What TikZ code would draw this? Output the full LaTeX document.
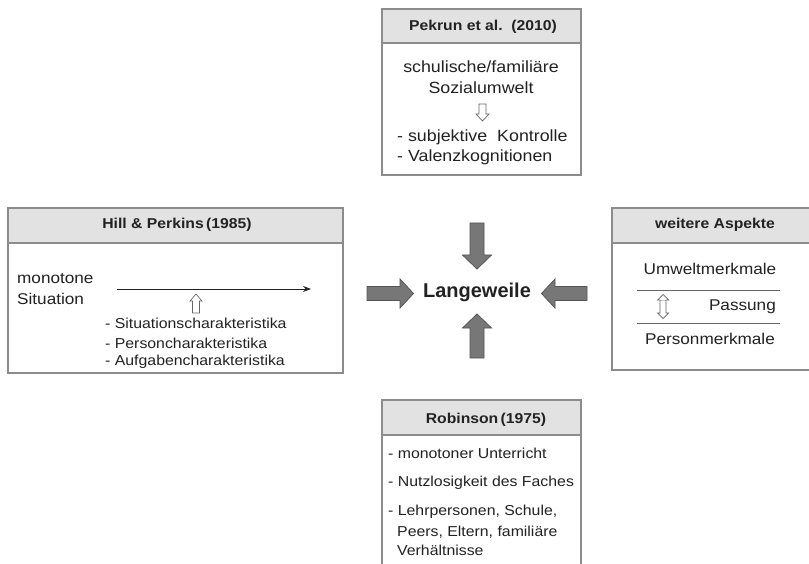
\documentclass[tikz,border=0pt]{standalone}
\usepackage{fontspec}
\setmainfont{Liberation Sans}
\newfontfamily\boxfont{Liberation Sans}[FakeStretch=1.1]
\usetikzlibrary{arrows.meta}
\definecolor{boxline}{HTML}{8C8C8C}
\definecolor{headfill}{HTML}{E2E2E2}
\definecolor{txt}{HTML}{222222}
\definecolor{blockfill}{HTML}{777777}
\definecolor{blockline}{HTML}{555555}
\tikzset{
  panel/.style={draw=boxline, line width=1.2pt, fill=white},
  panelhead/.style={draw=boxline, line width=1.2pt, fill=headfill},
  headtxt/.style={font=\boxfont\fontsize{14.3}{17}\selectfont\bfseries, text=txt, inner sep=0pt},
  bodytxt/.style={font=\boxfont\fontsize{16.2}{19}\selectfont, text=txt, inner sep=0pt},
  midtxt/.style={font=\boxfont\fontsize{15.6}{19}\selectfont, text=txt, inner sep=0pt},
  smalltxt/.style={font=\boxfont\fontsize{14.4}{18}\selectfont, text=txt, inner sep=0pt},
  blockarrow/.style={fill=blockfill, draw=blockline, line width=0.8pt, line join=miter},
  hollow/.style={draw=gray!80!black, line width=0.7pt, fill=white},
  sepline/.style={draw=gray!80!black, line width=0.8pt},
}
\begin{document}
\begin{tikzpicture}[x=1pt,y=-1pt]
\useasboundingbox (0,0) rectangle (809,564);
\clip (0,0) rectangle (809,564);
\fill[white] (0,0) rectangle (809,564);

% ---------- Pekrun (top) ----------
\draw[panel] (382,9) rectangle (581,175);
\draw[panelhead] (382,9) rectangle (581,43);
\node[headtxt] (pekh) at (483,27) {Pekrun et al.\ \ (2010)};
\node[bodytxt] (pek1) at (481,67) {schulische/familiäre};
\node[bodytxt] (pek2) at (481,88) {Sozialumwelt};
\draw[hollow] (479,104) -- (486,104) -- (486,114) -- (489,114) -- (482.5,121) -- (476,114) -- (479,114) -- cycle;
\node[bodytxt, anchor=west] (pek3) at (397,137) {- subjektive\ \ Kontrolle};
\node[bodytxt, anchor=west] (pek4) at (397,157) {- Valenzkognitionen};

% ---------- Hill & Perkins (left) ----------
\draw[panel] (8,208) rectangle (343,373);
\draw[panelhead] (8,208) rectangle (343,243);
\node[headtxt] (hillh) at (177,225) {Hill \& Perkins\,(1985)};
\node[midtxt, anchor=west] (hill1) at (17,279) {monotone};
\node[midtxt, anchor=west] (hill2) at (17,299) {Situation};
\coordinate (hs) at (117,289);
\coordinate (he) at (311,289);
\draw[line width=0.9pt, draw=txt, -{Stealth[length=8pt,width=6pt]}] (hs) -- (he);
\draw[hollow] (192.5,313) -- (199.5,313) -- (199.5,301) -- (202,301) -- (196,294) -- (190,301) -- (192.5,301) -- cycle;
\node[smalltxt, anchor=west] (hill3) at (105,323) {- Situationscharakteristika};
\node[smalltxt, anchor=west] (hill4) at (105,343) {- Personcharakteristika};
\node[smalltxt, anchor=west] (hill5) at (105,362) {- Aufgabencharakteristika};

% ---------- weitere Aspekte (right) ----------
\draw[panel] (612,208) rectangle (830,370);
\draw[panelhead] (612,208) rectangle (830,243);
\node[headtxt] (weih) at (715,225) {weitere Aspekte};
\node[midtxt] (wei1) at (710,269) {Umweltmerkmale};
\coordinate (l1a) at (637,290);
\coordinate (l1b) at (780,290);
\draw[sepline] (l1a) -- (l1b);
\node[midtxt, anchor=east] (wei2) at (776,307) {Passung};
\draw[hollow] (660,300) -- (666,300) -- (666,313) -- (668.5,313) -- (663,318.5) -- (657.5,313) -- (660,313) -- cycle;
\draw[hollow] (660,300) -- (657.5,300) -- (663,294.5) -- (668.5,300) -- (666,300);
\coordinate (l2a) at (637,323);
\coordinate (l2b) at (780,323);
\draw[sepline] (l2a) -- (l2b);
\node[midtxt] (wei3) at (710,339) {Personmerkmale};

% ---------- Robinson (bottom) ----------
\draw[panel] (382,400) rectangle (581,600);
\draw[panelhead] (382,400) rectangle (581,435);
\node[headtxt] (robh) at (486,420) {Robinson\,(1975)};
\node[smalltxt, anchor=west] (rob1) at (388,453) {- monotoner Unterricht};
\node[smalltxt, anchor=west] (rob2) at (388,483) {- Nutzlosigkeit des Faches};
\node[smalltxt, anchor=west] (rob3) at (388,512) {- Lehrpersonen, Schule,};
\node[smalltxt, anchor=west] (rob4) at (397,532) {Peers, Eltern, familiäre};
\node[smalltxt, anchor=west] (rob5) at (397,550) {Verhältnisse};

% ---------- centre ----------
\node[font=\fontsize{20}{24}\selectfont\bfseries, text=txt, inner sep=0pt] (lw) at (477,292) {Langeweile};

% top arrow (down)
\draw[blockarrow] (470,223) -- (484,223) -- (484,255) -- (491.5,255) -- (477,269) -- (462.5,255) -- (470,255) -- cycle;
% bottom arrow (up)
\draw[blockarrow] (470,358) -- (484,358) -- (484,328) -- (491.5,328) -- (477,314) -- (462.5,328) -- (470,328) -- cycle;
% left arrow (right)
\draw[blockarrow] (367,286.5) -- (400,286.5) -- (400,279) -- (413.5,293.5) -- (400,308) -- (400,300.5) -- (367,300.5) -- cycle;
% right arrow (left)
\draw[blockarrow] (587,286.5) -- (555,286.5) -- (555,279) -- (541.5,293.5) -- (555,308) -- (555,300.5) -- (587,300.5) -- cycle;
\end{tikzpicture}
\end{document}
